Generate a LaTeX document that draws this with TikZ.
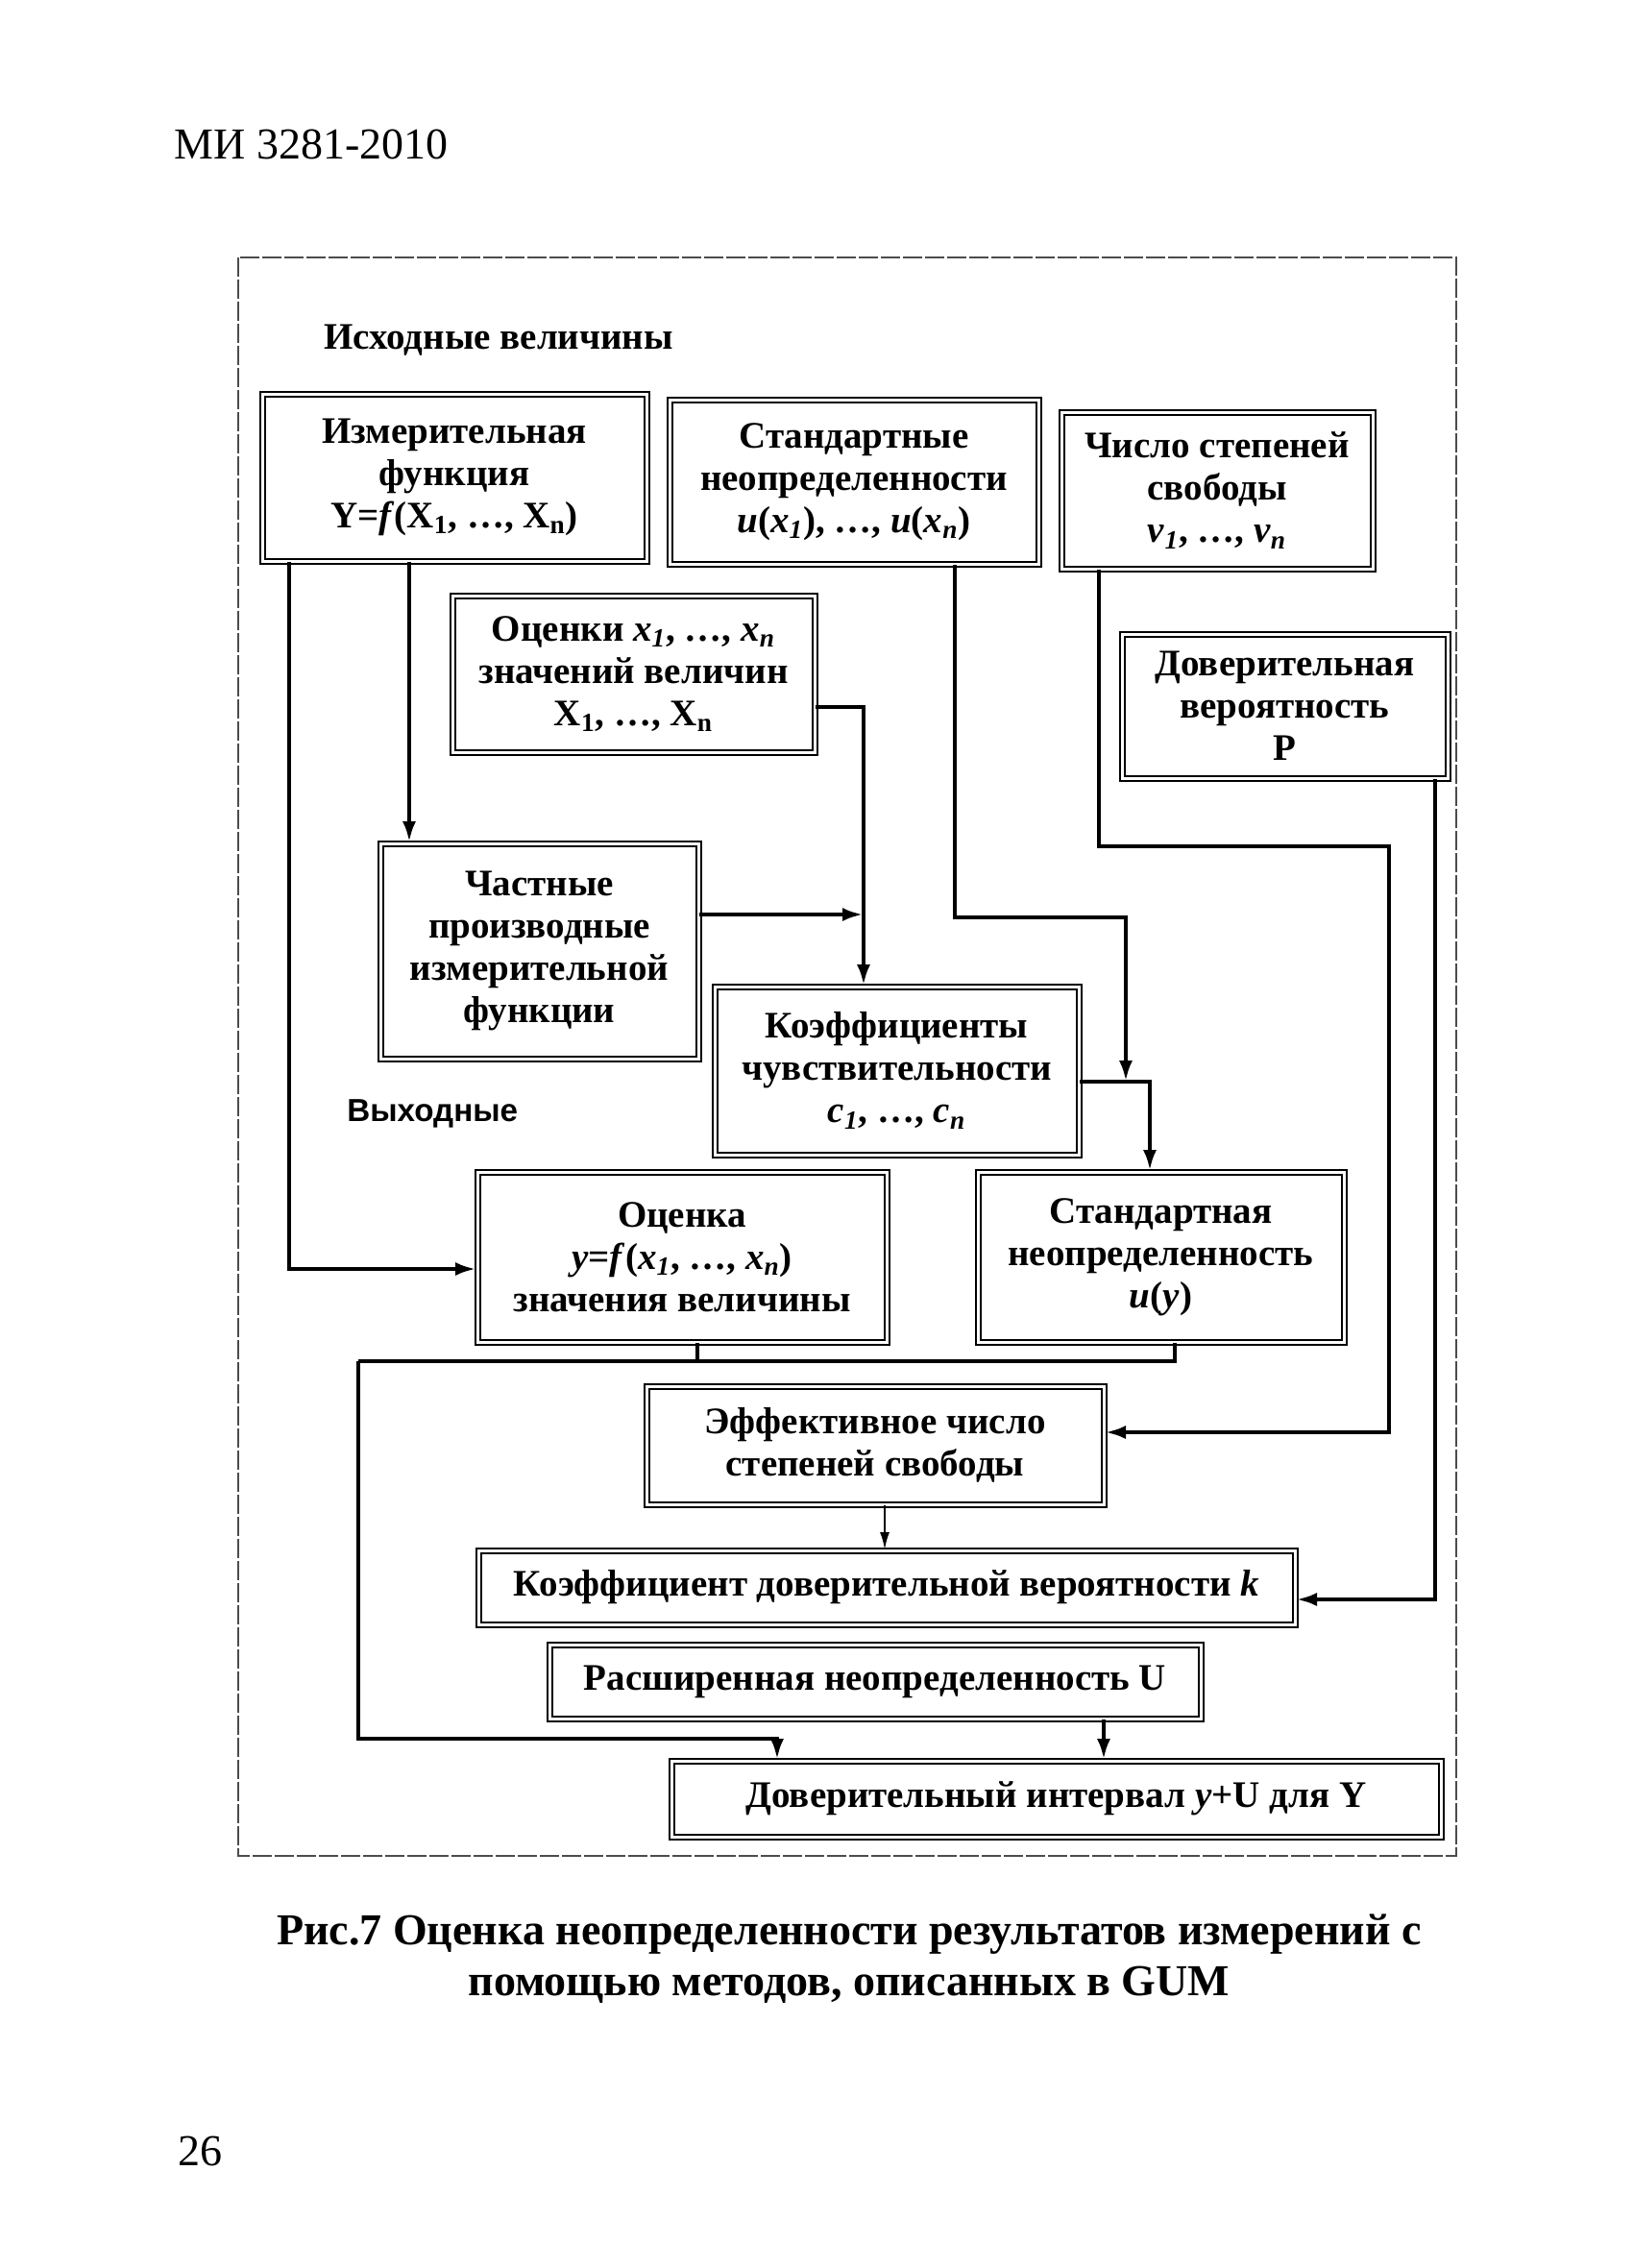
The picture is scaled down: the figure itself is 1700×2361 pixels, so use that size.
\documentclass[tikz,border=0pt]{standalone}
\usepackage{fontspec}
\setmainfont{Liberation Serif}
\newfontfamily\sansb{Liberation Sans}
\usetikzlibrary{arrows.meta}
\begin{document}
\begin{tikzpicture}[x=0.5pt,y=-0.5pt,
  box/.style={draw, line width=1pt, double=white, double distance=1.5pt,
    align=center, inner sep=1pt,
    font=\fontsize{19.5}{22}\selectfont\bfseries},
  conn/.style={line width=2.3pt, line join=miter, -{Latex[length=11pt,width=7pt]}},
  thinconn/.style={line width=1pt, -{Latex[length=9pt,width=5pt]}},
  wire/.style={line width=2.3pt, line join=miter},
  lbl/.style={font=\fontsize{19.5}{22}\selectfont\bfseries, anchor=west, inner sep=0pt},
]
\useasboundingbox (0,0) rectangle (1700,2361);
\fill[white] (0,0) rectangle (1700,2361);

% header and page number
\node[anchor=west, inner sep=0pt, font=\fontsize{23}{27}\selectfont] (hdr) at (181,150) {МИ 3281-2010};
\node[anchor=west, inner sep=0pt, font=\fontsize{23}{27}\selectfont] (pg) at (185,2239) {26};

% frame
\draw[gray!60!black, line width=0.6pt, dash pattern=on 10pt off 1.5pt] (248,268) rectangle (1516,1932);

\node[lbl] (src) at (337,354) {Исходные величины};
\node[lbl, font=\fontsize{16.6}{20}\selectfont\sansb\bfseries] (out) at (361,1159) {Выходные};

% boxes
\node[box, minimum width=200pt, minimum height=87pt] (A) at (473,497)
  {Измерительная\\функция\\Y=\textit{f}(X\textsubscript{1}, …, X\textsubscript{n})};
\node[box, minimum width=192pt, minimum height=85.5pt] (B) at (889,501.5)
  {Стандартные\\неопределенности\\\textit{u}(\textit{x}\textsubscript{\textit{1}}), …, \textit{u}(\textit{x}\textsubscript{\textit{n}})};
\node[box, minimum width=162pt, minimum height=81.5pt] (C) at (1267,510.5)
  {Число степеней\\свободы\\\textit{ν}\textsubscript{\textit{1}}, …, \textit{ν}\textsubscript{\textit{n}}};
\node[box, minimum width=188.5pt, minimum height=81.5pt] (D) at (659.5,701.5)
  {Оценки \textit{x}\textsubscript{\textit{1}}, …, \textit{x}\textsubscript{\textit{n}}\\значений величин\\X\textsubscript{1}, …, X\textsubscript{n}};
\node[box, minimum width=169.5pt, minimum height=75pt] (E) at (1337.5,735)
  {Доверительная\\вероятность\\P};
\node[box, minimum width=165.5pt, minimum height=112pt] (F) at (561.5,990)
  {Частные\\производные\\измерительной\\функции};
\node[box, minimum width=189.5pt, minimum height=87.5pt] (G) at (933.5,1114.5)
  {Коэффициенты\\чувствительности\\\textit{c}\textsubscript{\textit{1}}, …, \textit{c}\textsubscript{\textit{n}}};
\node[box, minimum width=213pt, minimum height=88.5pt] (H) at (710,1308.5)
  {Оценка\\\textit{y}=\textit{f}(\textit{x}\textsubscript{\textit{1}}, …, \textit{x}\textsubscript{\textit{n}})\\значения величины};
\node[box, minimum width=190.5pt, minimum height=88.5pt] (I) at (1208.5,1308.5)
  {Стандартная\\неопределенность\\\textit{u}(\textit{y})};
\node[box, minimum width=238pt, minimum height=61.5pt] (J) at (911,1504.5)
  {Эффективное число\\степеней свободы};
\node[box, minimum width=425pt, minimum height=38.5pt] (K) at (923,1652.5)
  {Коэффициент доверительной вероятности \textit{k}};
\node[box, minimum width=339pt, minimum height=38.5pt] (L) at (911,1750.5)
  {Расширенная неопределенность U};
\node[box, minimum width=400.5pt, minimum height=39.5pt] (M) at (1099.5,1872.5)
  {Доверительный интервал \textit{y}+U для Y};

% bend coordinates
\coordinate (a1) at (301,1321);
\coordinate (a2) at (426,0);
\coordinate (d1) at (899,736);
\coordinate (f1) at (899,952);
\coordinate (b1) at (994,955);
\coordinate (b2) at (1172,1126);
\coordinate (g1) at (1197,1126);
\coordinate (c1) at (1144,881);
\coordinate (c2) at (1446,1491);
\coordinate (e1) at (1494,1665);
\coordinate (h1) at (726,1417);
\coordinate (i1) at (1223,1417);
\coordinate (l1) at (373,1417);
\coordinate (l2) at (373,1810);
\coordinate (m1) at (809,1810);
\coordinate (j1) at (921,0);
\coordinate (u1) at (1149,0);

% connectors
\draw[conn] (A.south -| a1) -- (a1) -- (H.west |- a1);
\draw[conn] (A.south -| a2) -- (F.north -| a2);
\draw[conn] (D.east |- d1) -- (d1) -- (G.north -| d1);
\draw[conn] (F.east |- f1) -- (f1);
\draw[conn] (B.south -| b1) -- (b1) -| (b2);
\draw[conn] (G.east |- g1) -- (g1) -- (I.north -| g1);
\draw[conn] (C.south -| c1) -- (c1) -| (c2) -- (J.east |- c2);
\draw[conn] (E.south -| e1) -- (e1) -- (K.east |- e1);
\draw[wire] (H.south -| h1) -- (h1);
\draw[wire] (I.south -| i1) -- (i1) -- (l1);
\draw[conn] (l1) -- (l2) -- (m1) -- (M.north -| m1);
\draw[thinconn] (J.south -| j1) -- (K.north -| j1);
\draw[conn] (L.south -| u1) -- (M.north -| u1);

% caption
\node[align=center, font=\fontsize{23}{26.5}\selectfont\bfseries] (cap) at (884,2039.5)
  {Рис.7 Оценка неопределенности результатов измерений с\\помощью методов, описанных в GUM};
\end{tikzpicture}
\end{document}
